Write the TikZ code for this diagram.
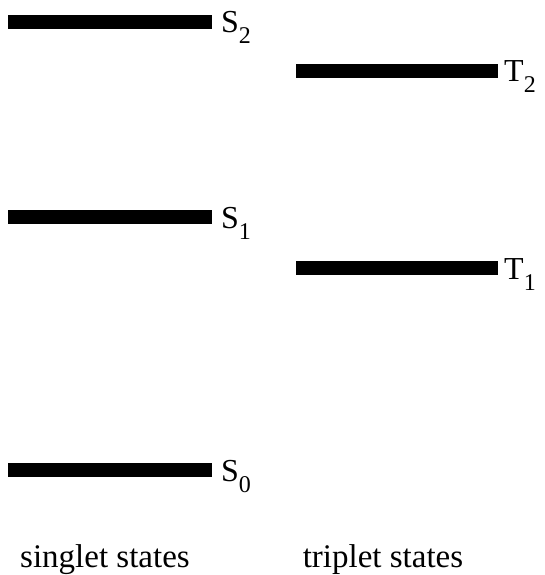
\documentclass[tikz,border=0pt]{standalone}
\usepackage{fontspec}
\setmainfont{Liberation Serif}
\begin{document}
\begin{tikzpicture}[x=1pt,y=-1pt,
  level/.style={line width=13.5pt},
  lbl/.style={anchor=base west,inner sep=0pt,font=\fontsize{32}{34}\selectfont},
  caption/.style={anchor=base,inner sep=0pt,font=\fontsize{33}{36}\selectfont}]
\newcommand{\lev}[2]{#1\raisebox{-11pt}{\fontsize{24}{24}\selectfont #2}}
\useasboundingbox (0,0) rectangle (544,575);
% singlet levels
\coordinate (s2a) at (8,22);   \coordinate (s2b) at (212,22);
\coordinate (s1a) at (8,217);  \coordinate (s1b) at (212,217);
\coordinate (s0a) at (8,470);  \coordinate (s0b) at (212,470);
% triplet levels
\coordinate (t2a) at (296,71);  \coordinate (t2b) at (498,71);
\coordinate (t1a) at (296,268); \coordinate (t1b) at (498,268);
\draw[level] (s2a) -- (s2b);
\draw[level] (s1a) -- (s1b);
\draw[level] (s0a) -- (s0b);
\draw[level] (t2a) -- (t2b);
\draw[level] (t1a) -- (t1b);
\node[lbl] (S2) at (221,33) {\lev{S}{2}};
\node[lbl] (S1) at (221,228) {\lev{S}{1}};
\node[lbl] (S0) at (221,481) {\lev{S}{0}};
\node[lbl] (T2) at (504,82) {\lev{T}{2}};
\node[lbl] (T1) at (504,279) {\lev{T}{1}};
\node[caption] (sing) at (105,567) {singlet states};
\node[caption] (trip) at (383,567) {triplet states};
\end{tikzpicture}
\end{document}
